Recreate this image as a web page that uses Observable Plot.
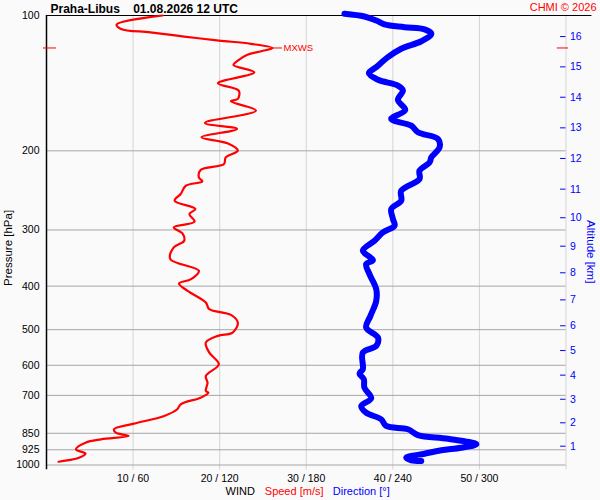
<!DOCTYPE html>
<html><head><meta charset="utf-8">
<script src="https://cdn.jsdelivr.net/npm/d3@7"></script>
<script src="https://cdn.jsdelivr.net/npm/@observablehq/plot@0.6"></script>
<style>html,body{margin:0;padding:0;background:#fafafa;}</style>
</head><body><div id="chart"></div>
<script>
// Wind speed profile [m/s] vs pressure [hPa]
const speedPressure = [100,104.7,107.1,109,111.4,113.7,115.6,118.1,120.1,122.3,126,128.8,133.8,141.5,146.9,153.3,155.2,162.7,173.4,178.8,186.6,192.4,199.8,206.8,213.9,220.6,229.2,233.9,239.1,249.5,258.2,269.5,276.5,287.6,296.1,305.4,317,328.1,348.3,369.8,385.9,394.7,409.8,435.1,450.1,463.4,482.1,507.4,516.1,534.2,562.3,596.8,633.7,655.8,684.3,690.3,708.2,732.6,751.6,777.9,809.2,832.8,847.5,862.1,876.8,892.1,922.8,943.8,966.2,976.2,983.3];
const speedValues = [13.4,8.1,8.6,12.0,15.9,19.9,23.6,26.1,24.8,23.2,22.1,21.6,24.0,19.8,22.2,22.1,21.3,24.2,18.3,22.0,17.9,20.9,22.1,20.7,20.5,17.8,17.6,18.0,16.1,15.5,14.8,17.2,16.5,17.1,14.7,15.7,15.9,14.7,14.3,17.6,16.7,15.3,16.3,18.4,18.8,21.3,22.1,21.5,19.8,18.4,18.8,19.9,18.4,18.6,18.4,18.7,17.8,15.5,15.1,13.6,10.1,7.8,8.0,9.5,6.3,4.5,3.4,4.5,3.6,2.4,1.4];
// Wind direction profile [deg] vs pressure [hPa]
const dirPressure = [99.1,100.5,102.6,104.7,106.2,107.4,109.8,114.1,118.6,123.8,130.3,134.4,139.0,143.2,146.9,154.1,162.2,169.9,175.8,181.9,188.2,196.5,206.8,212.2,221.4,231.0,245.4,258.2,269.5,283.7,293.5,303.8,317.0,333.8,350.1,357.3,376.1,406.2,431.4,465.8,494.5,520.6,543.3,562.3,612.2,626.2,644.4,672.8,710.5,739.1,764.9,791.1,818.7,832.8,857.7,874.0,899.5,915.3,927.6,943.8,963.2,976.2,979.7];
const dirValues = [206.5,220.3,228.5,234.2,248.1,262.0,266.7,259.7,245.8,236.6,228.5,223.4,229.7,243.5,247.0,243.5,248.6,238.9,252.8,257.4,271.3,272.4,266.7,265.5,258.5,258.5,245.8,245.8,238.9,240.1,241.2,233.1,227.3,219.2,226.2,221.5,223.8,228.5,228.5,224.5,221.5,229.7,228.5,219.2,219.2,216.9,219.9,220.3,225.0,218.1,221.5,231.9,235.4,250.5,257.4,278.3,297.9,287.5,273.6,262.0,249.3,252.8,259.7];

const pressureTicks = [100,200,300,400,500,600,700,850,925,1000];
const gridPressures = [200,300,400,500,600,700,850,925,1000];
const speedTicks = [10,20,30,40,50];
const directionTicks = [60,120,180,240,300];
const altitudeKm = [1,2,3,4,5,6,7,8,9,10,11,12,13,14,15,16];
const altitudePressure = [908.2,805.6,714.0,631.1,556.4,490.1,429.2,373.6,326.0,281.8,243.4,208.0,177.8,152.0,130.1,111.4];

const RED = "#ff0000", BLUE = "#0000ff";
const speedData = speedPressure.map((p, i) => ({p, v: speedValues[i]}));
const dirData = dirPressure.map((p, i) => ({p, v: dirValues[i] / 6}));
const altData = altitudeKm.map((km, i) => ({km, p: altitudePressure[i]}));
const mx = speedData[d3.maxIndex(speedData, d => d.v)];

const chart = Plot.plot({
  width: 600, height: 500,
  marginTop: 15, marginLeft: 46, marginRight: 34.5, marginBottom: 35.5,
  x: {domain: [0, 60], axis: null},
  y: {type: "log", domain: [100, 1000], reverse: true, axis: null},
  style: {background: "#fafafa", fontFamily: "'Liberation Sans', Arial, sans-serif", fontSize: "10.5px", color: "black"},
  marks: [
    Plot.ruleX(speedTicks, {y1: 100, y2: 1025, stroke: "#d4d4d4"}),
    Plot.ruleX([60], {y1: 100, y2: 1025, stroke: "#d4d4d4"}),
    Plot.ruleY(gridPressures, {x1: 0, x2: 60, stroke: "#a6a6a6"}),
    Plot.ruleY([100], {x1: 0, x2: 63, stroke: "black"}),
    Plot.ruleX([0], {y1: 100, y2: 1025, stroke: "black", strokeWidth: 1.5}),
    Plot.text(pressureTicks, {x: 0, y: d => d, text: d => String(d), textAnchor: "end", dx: -7, fill: "black"}),
    Plot.text(speedTicks, {x: d => d, y: 1000, text: (d, i) => `${d} / ${directionTicks[i]}`, dy: 13.8, lineAnchor: "middle", fill: "black"}),
    Plot.ruleY(altData, {y: "p", x1: 59.37, x2: 60, stroke: BLUE}),
    Plot.text(altData, {y: "p", x: 60, text: d => String(d.km), dx: 4, textAnchor: "start", fill: BLUE}),
    Plot.line(dirData, {x: "v", y: "p", curve: "catmull-rom", stroke: BLUE, strokeWidth: 6, strokeLinecap: "round", strokeLinejoin: "round"}),
    Plot.line(speedData, {x: "v", y: "p", curve: "catmull-rom", stroke: RED, strokeWidth: 2.2, strokeLinejoin: "round"}),
    Plot.ruleY([mx], {y: "p", x1: "v", x2: d => d.v + 1.15, stroke: RED}),
    Plot.text([mx], {y: "p", x: "v", text: () => "MXWS", dx: 11, textAnchor: "start", fill: RED, fontSize: 9.5}),
    Plot.ruleY([mx], {y: "p", x1: -0.35, x2: 1.15, stroke: RED}),
    Plot.ruleY([mx], {y: "p", x1: 59.0, x2: 60.3, stroke: RED}),
    Plot.text(["Praha-Libus\u00a0\u00a0\u00a0\u00a001.08.2026 12 UTC"], {text: d => d, frameAnchor: "top-left", dx: 4, dy: -6.8, lineAnchor: "middle", textAnchor: "start", fontWeight: "bold", fontSize: 12, fill: "black"}),
    Plot.text(["CHMI © 2026"], {text: d => d, frameAnchor: "top-right", dx: 30.5, dy: -8.5, lineAnchor: "middle", textAnchor: "end", fill: RED, fontSize: 11}),
    Plot.text(["WIND"], {text: d => d, frameAnchor: "bottom-left", dx: 179, dy: 26.4, lineAnchor: "middle", textAnchor: "start", fontSize: 11, fill: "black"}),
    Plot.text(["Speed [m/s]"], {text: d => d, frameAnchor: "bottom-left", dx: 218.3, dy: 26.4, lineAnchor: "middle", textAnchor: "start", fontSize: 11, fill: RED}),
    Plot.text(["Direction [°]"], {text: d => d, frameAnchor: "bottom-left", dx: 286.3, dy: 26.4, lineAnchor: "middle", textAnchor: "start", fontSize: 11, fill: BLUE}),
    Plot.text(["Pressure [hPa]"], {text: d => d, frameAnchor: "left", dx: -38, dy: 7.7, rotate: -90, lineAnchor: "middle", textAnchor: "middle", fontSize: 11.5, fill: "black"}),
    Plot.text(["Altitude [km]"], {text: d => d, frameAnchor: "right", dx: 24.5, dy: 11.5, rotate: 90, lineAnchor: "middle", textAnchor: "middle", fontSize: 11.5, fill: BLUE})
  ]
});
document.getElementById("chart").appendChild(chart);
</script>
</body></html>
